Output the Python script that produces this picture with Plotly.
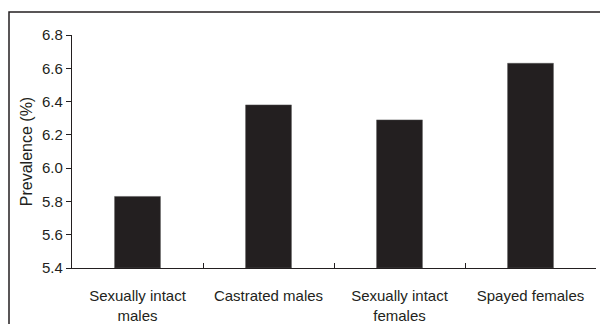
import plotly.graph_objects as go

categories = ["Sexually intact<br>males", "Castrated males", "Sexually intact<br>females", "Spayed females"]
prevalence = [5.83, 6.38, 6.29, 6.63]
y_ticks = [5.4, 5.6, 5.8, 6.0, 6.2, 6.4, 6.6, 6.8]
y_base = 5.4

# page body has an 8px margin, so the figure is sized to fit the 608x324 window
W, H = 600, 316
L, R, T, B = 64, 12, 27, 56
pw, ph = W - L - R, H - T - B

fig = go.Figure(go.Bar(
    x=categories, y=[v - y_base for v in prevalence], base=y_base, width=0.35,
    marker=dict(color="#231f20", line=dict(color="#555555", width=0.5)),
    hoverinfo="skip",
))

fs = 15
fig.update_layout(
    width=W, height=H, margin=dict(l=L, r=R, t=T, b=B, autoexpand=False),
    paper_bgcolor="white", plot_bgcolor="white", showlegend=False,
    font=dict(family="Liberation Sans, Arial, sans-serif", size=fs, color="#231f20"),
    xaxis=dict(showline=True, linecolor="#231f20", linewidth=1.2, ticks="inside",
               tickson="boundaries", ticklen=5, tickcolor="#231f20", showgrid=False,
               ticklabelstandoff=14, tickfont=dict(size=fs), automargin=False),
    yaxis=dict(range=[5.4, 6.8], tickvals=y_ticks, ticktext=[f"{v:.1f}" for v in y_ticks],
               showline=True, linecolor="#231f20", linewidth=1.2, ticks="outside",
               ticklen=5, tickcolor="#231f20", showgrid=False, zeroline=False,
               tickfont=dict(size=fs), automargin=False,
               title=dict(text="Prevalence (%)", font=dict(size=16), standoff=5)),
    shapes=[dict(type="rect", xref="paper", yref="paper",
                 x0=(1 - L) / pw, x1=(W + 60 - L) / pw,
                 y0=-(H + 60 - T - ph) / ph, y1=1 + (T - 4) / ph,
                 line=dict(color="#231f20", width=1.5), layer="below")],
)

fig.write_html("out.html")
